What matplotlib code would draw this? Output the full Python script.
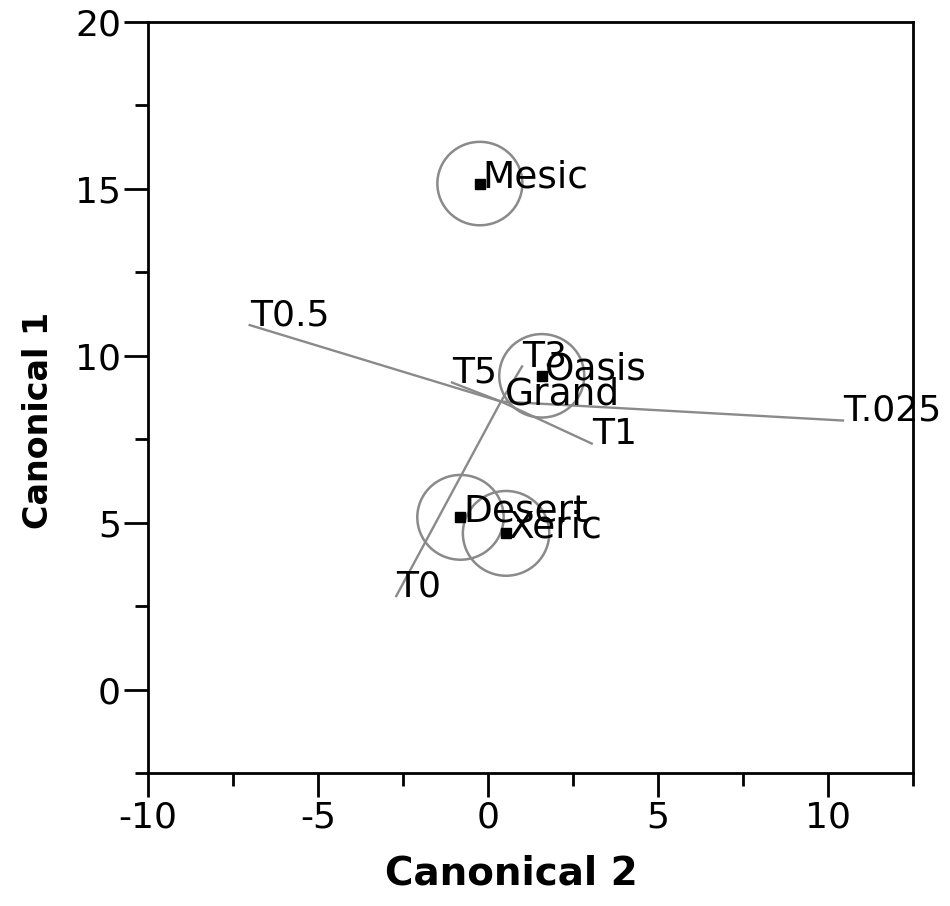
import matplotlib
matplotlib.use("Agg")
import matplotlib.pyplot as plt
from matplotlib.patches import Ellipse

# ---- data ----
group_names = ["Mesic", "Oasis", "Desert", "Xeric"]
group_x = [-0.24, 1.58, -0.81, 0.53]
group_y = [15.16, 9.40, 5.16, 4.68]
group_r = [1.25, 1.25, 1.27, 1.27]

grand_name = "Grand"
grand_x = 0.38
grand_y = 8.63

vector_names = ["T0.5", "T.025", "T1", "T0", "T5", "T3"]
vector_x = [-7.01, 10.44, 3.05, -2.70, -1.06, 1.00]
vector_y = [10.92, 8.06, 7.37, 2.80, 9.20, 9.68]

x_major = [-10, -5, 0, 5, 10]
x_minor = [-7.5, -2.5, 2.5, 7.5, 12.5]
y_major = [0, 5, 10, 15, 20]
y_minor = [-2.5, 2.5, 7.5, 12.5, 17.5]

# ---- figure ----
fig = plt.figure(figsize=(9.5, 9.06), dpi=100)
ax = fig.add_axes([0.1558, 0.1468, 0.8053, 0.8289])
ax.set_xlim(-10, 12.5)
ax.set_ylim(-2.5, 20)

grey = "#8a8a8a"

# biplot vectors from the grand mean
for name, vx, vy in zip(vector_names, vector_x, vector_y):
    ax.plot([grand_x, vx], [grand_y, vy], color=grey, lw=1.7, zorder=2)
    ax.text(vx, vy, name, fontsize=26, ha="left", va="baseline", zorder=4)

# group means with confidence circles
for name, gx, gy, r in zip(group_names, group_x, group_y, group_r):
    ax.add_patch(Ellipse((gx, gy), 2 * r, 2 * r, fill=False, edgecolor=grey,
                         lw=1.8, zorder=2))
    ax.plot([gx], [gy], marker="s", color="black", markersize=7, zorder=3)
    ax.annotate(name, (gx, gy), xytext=(3, -4), textcoords="offset pixels",
                fontsize=27, ha="left", va="baseline", zorder=4)

ax.annotate(grand_name, (grand_x, grand_y), xytext=(4, -3),
            textcoords="offset pixels", fontsize=27, ha="left",
            va="baseline", zorder=4)

# ticks & spines
ax.set_xticks(x_major)
ax.set_xticks(x_minor, minor=True)
ax.set_yticks(y_major)
ax.set_yticks(y_minor, minor=True)
ax.set_xticklabels([str(v) for v in x_major])
ax.set_yticklabels([str(v) for v in y_major])
ax.tick_params(which="major", direction="out", length=17, width=2.0,
               labelsize=26)
ax.tick_params(which="minor", direction="out", length=9.5, width=2.0)
ax.tick_params(axis="x", which="major", pad=3)
ax.tick_params(axis="y", which="major", pad=2.5)
for s in ax.spines.values():
    s.set_linewidth(2.0)
    s.set_color("black")

ax.set_xlabel("Canonical 2", fontsize=28, fontweight="bold")
ax.xaxis.set_label_coords(0.475, -0.108)
ax.set_ylabel("Canonical 1", fontsize=24, fontweight="bold")
ax.yaxis.set_label_coords(-0.122, 0.469)

fig.savefig("out.png", dpi=100, facecolor="white")
